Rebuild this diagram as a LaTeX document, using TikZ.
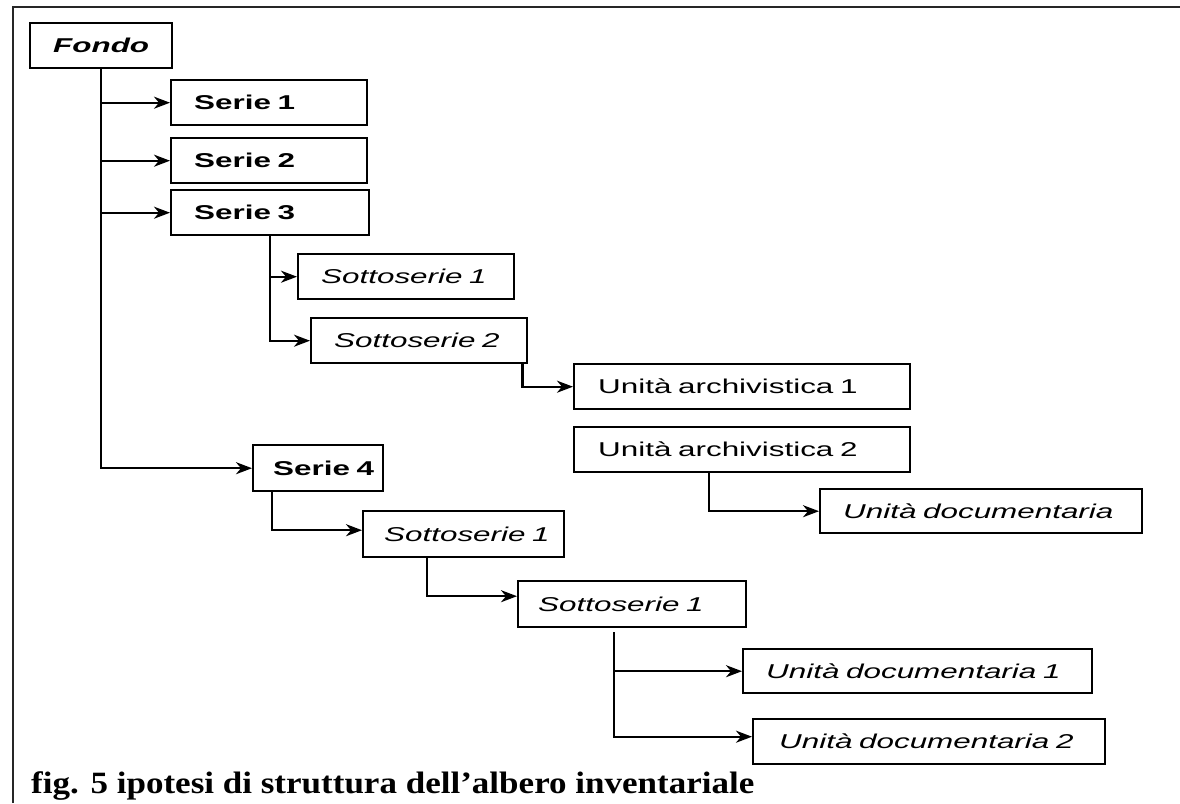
\documentclass[tikz,border=0pt]{standalone}
\usepackage{fontspec}
\setmainfont{Liberation Serif}
\newfontfamily\boxfont[FakeStretch=1.57]{Liberation Sans}
\newfontfamily\capfont[FakeStretch=1.13]{Liberation Serif}
\usetikzlibrary{arrows.meta}
\begin{document}
\begin{tikzpicture}[x=1pt,y=-1pt,
  box/.style={draw, line width=2.4pt, rectangle, anchor=north west, inner ysep=0pt,
    align=left, font=\boxfont\fontsize{20}{24}\selectfont},
  arr/.style={line width=2.2pt, -{Stealth[length=16pt,width=12pt,inset=5pt]}},
  frame/.style={line width=2.6pt, black!85}]
\useasboundingbox (0,0) rectangle (1180,803);
% frame
\coordinate (fbl) at (13,803);
\coordinate (ftl) at (13,7);
\coordinate (ftr) at (1180,7);
\draw[frame] (fbl) -- (ftl) -- (ftr);
% boxes
\node[box, minimum width=142pt, minimum height=45pt, inner xsep=23pt, text width=96pt] (fondo) at (29,22) {\mbox{\bfseries\itshape Fondo}};
\node[box, minimum width=196pt, minimum height=45pt, inner xsep=23pt, text width=150pt] (s1) at (170,79) {\mbox{\bfseries Serie 1}};
\node[box, minimum width=196pt, minimum height=45pt, inner xsep=23pt, text width=150pt] (s2) at (170,137) {\mbox{\bfseries Serie 2}};
\node[box, minimum width=198pt, minimum height=45pt, inner xsep=23pt, text width=152pt] (s3) at (170,189) {\mbox{\bfseries Serie 3}};
\node[box, minimum width=130pt, minimum height=46pt, inner xsep=20pt, text width=90pt] (s4) at (252,444) {\mbox{\bfseries Serie 4}};
\node[box, minimum width=216pt, minimum height=45pt, inner xsep=23pt, text width=170pt] (ssa) at (297,253) {\mbox{\itshape Sottoserie 1}};
\node[box, minimum width=216pt, minimum height=45pt, inner xsep=23pt, text width=170pt] (ssb) at (310,317) {\mbox{\itshape Sottoserie 2}};
\node[box, minimum width=336pt, minimum height=45pt, inner xsep=24pt, text width=288pt] (ua1) at (573,363) {\mbox{Unità archivistica 1}};
\node[box, minimum width=336pt, minimum height=45pt, inner xsep=24pt, text width=288pt] (ua2) at (573,426) {\mbox{Unità archivistica 2}};
\node[box, minimum width=322pt, minimum height=44pt, inner xsep=23pt, text width=276pt] (ud) at (819,488) {\mbox{\itshape Unità documentaria}};
\node[box, minimum width=201pt, minimum height=46pt, inner xsep=21pt, text width=159pt] (s4s1) at (362,510) {\mbox{\itshape Sottoserie 1}};
\node[box, minimum width=228pt, minimum height=46pt, inner xsep=20pt, text width=188pt] (s4s2) at (517,580) {\mbox{\itshape Sottoserie 1}};
\node[box, minimum width=349pt, minimum height=44pt, inner xsep=23pt, text width=303pt] (ud1) at (742,648) {\mbox{\itshape Unità documentaria 1}};
\node[box, minimum width=352pt, minimum height=45pt, inner xsep=26pt, text width=300pt] (ud2) at (752,718) {\mbox{\itshape Unità documentaria 2}};
% caption
\node[anchor=base west, inner sep=0pt, font=\capfont\bfseries\fontsize{31}{36}\selectfont] (cap) at (31,793) {fig. 5 ipotesi di struttura dell’albero inventariale};
% connectors
\draw[arr] (fondo.south) |- (s4.west);
\draw[arr] (fondo.south |- s1.west) -- (s1.west);
\draw[arr] (fondo.south |- s2.west) -- (s2.west);
\draw[arr] (fondo.south |- s3.west) -- (s3.west);
\draw[arr] (s3.south) |- (ssb.west);
\draw[arr] (s3.south |- ssa.west) -- (ssa.west);
\coordinate (c2) at ([xshift=-6pt]ssb.south east);
\draw[arr] (c2) |- (ua1.west);
\coordinate (c3) at ([xshift=-33pt]ua2.south);
\draw[arr] (c3) |- (ud.west);
\coordinate (c4) at ([xshift=-46pt]s4.south);
\draw[arr] (c4) |- ([yshift=4pt]s4s1.west);
\coordinate (c5) at ([xshift=-36.5pt]s4s1.south);
\draw[arr] (c5) |- ([yshift=8pt]s4s2.west);
\coordinate (c6) at ([xshift=-18pt,yshift=-4pt]s4s2.south);
\draw[arr] (c6) |- (ud1.west);
\draw[arr] (c6) |- ([yshift=5pt]ud2.west);
\end{tikzpicture}
\end{document}
